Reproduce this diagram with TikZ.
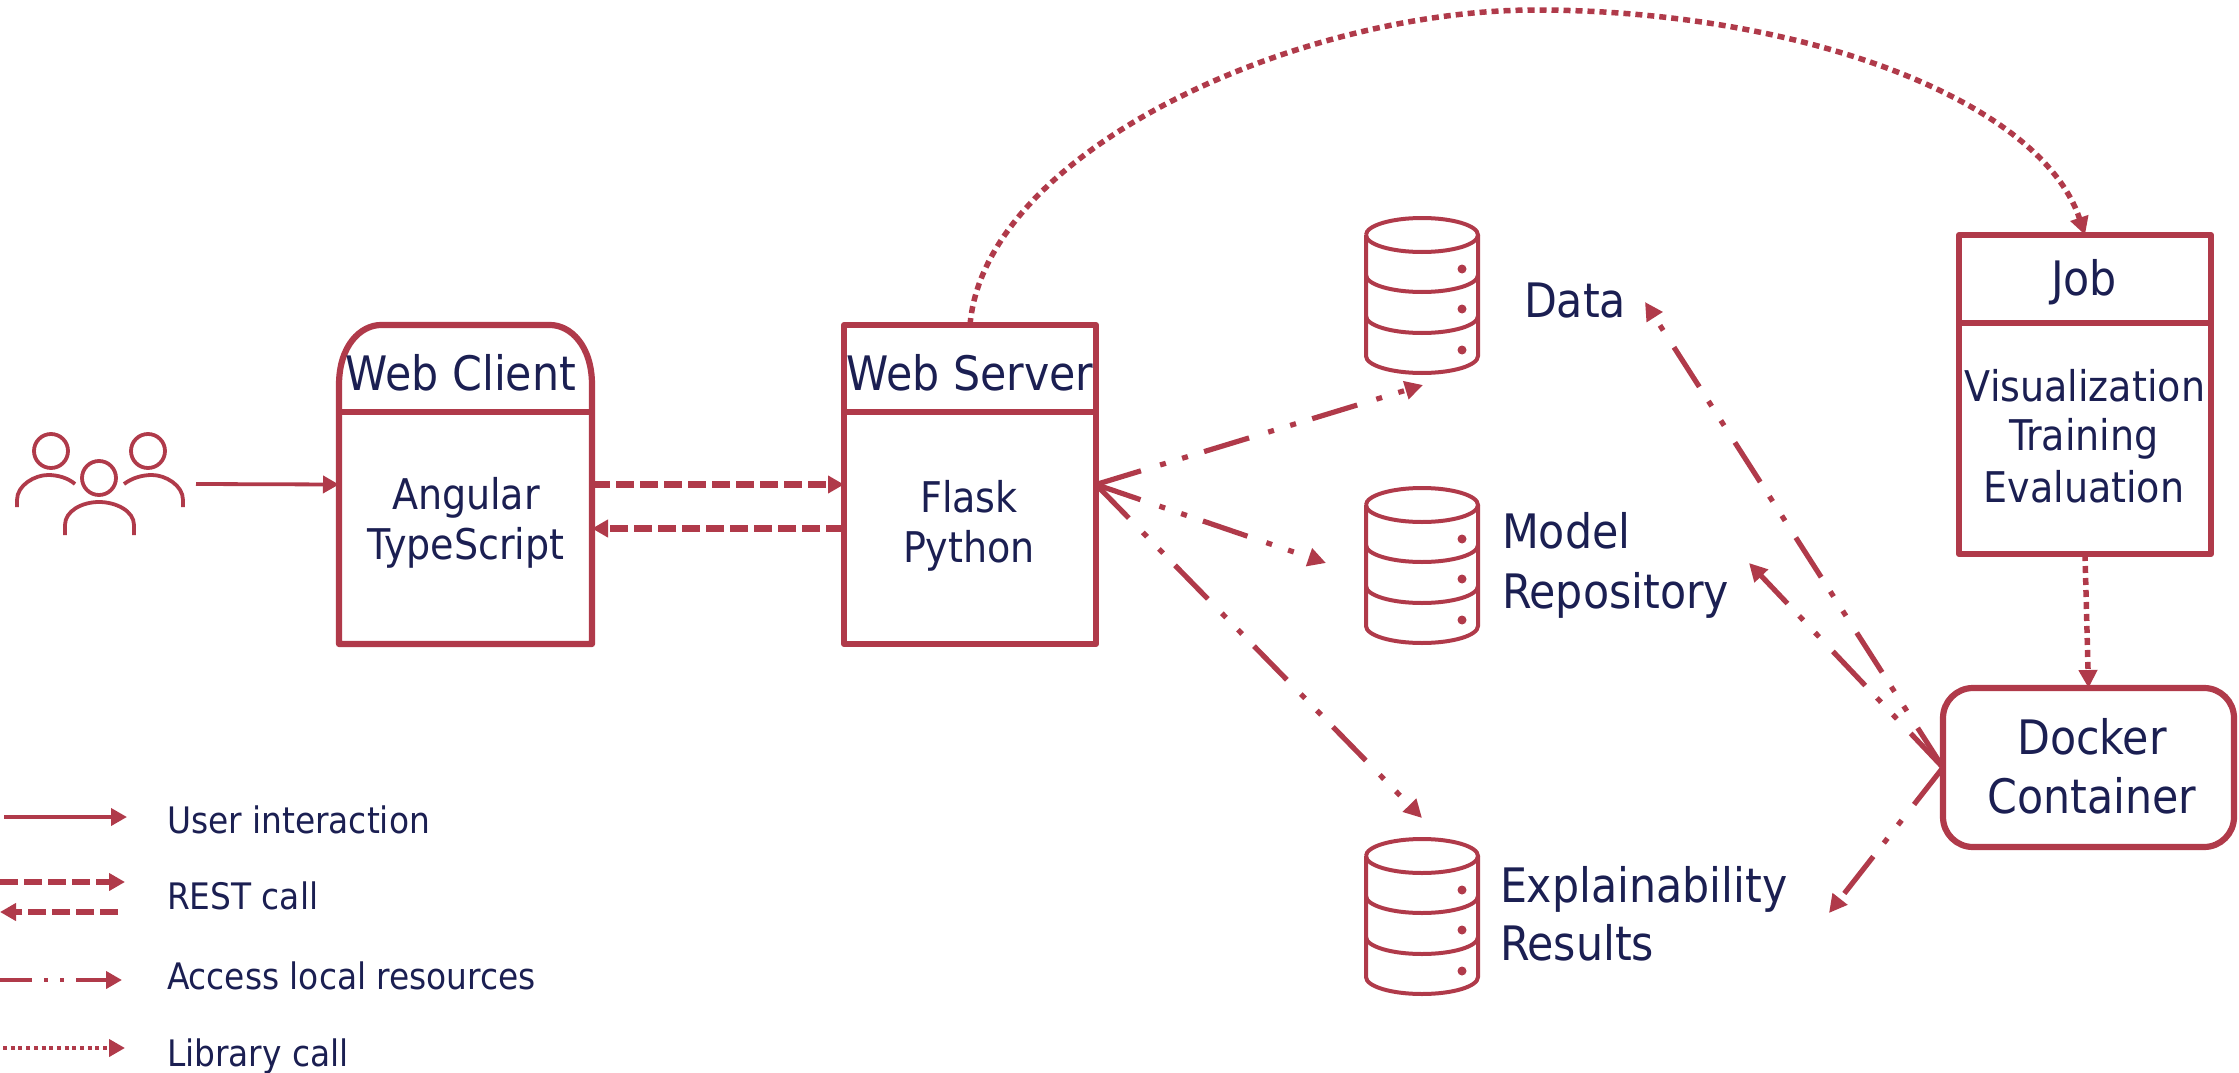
\documentclass[tikz,border=0pt]{standalone}
\usepackage{fontspec}
\setmainfont{DejaVu Sans Condensed}
\usetikzlibrary{arrows.meta,calc}
\definecolor{wine}{RGB}{176,58,74}
\definecolor{navy}{RGB}{27,31,82}
\tikzset{
  x=1pt,y=-1pt,
  box/.style={rectangle,draw=wine,line width=6.2pt,line join=round,minimum width=#1,inner sep=0pt,outer sep=0pt},
  plainbox/.style={rectangle,inner sep=0pt,outer sep=0pt,minimum width=#1},
  lbl/.style={text=navy,inner sep=0pt,outer sep=0pt,font=\fontsize{47.5}{58}\selectfont,anchor=base},
  lblb/.style={lbl,font=\fontsize{42.3}{50}\selectfont},
  lblw/.style={lbl,anchor=base west},
  leg/.style={text=navy,inner sep=0pt,outer sep=0pt,font=\fontsize{36.5}{42}\selectfont,anchor=base west},
  tipa/.style={-{Triangle[length=16pt,width=17pt]}},
  tipb/.style={-{Triangle[length=18pt,width=18pt]}},
  userline/.style={draw=wine,line width=3.8pt,tipa},
  restline/.style={draw=wine,line width=6.3pt,dash pattern=on 18pt off 6pt,tipa},
  accessline/.style={draw=wine,line width=5.2pt,dash pattern=on 47pt off 20pt on 6pt off 17pt on 6pt off 17pt,tipb},
  libline/.style={draw=wine,line width=5.5pt,dash pattern=on 7pt off 5pt,tipb},
  pics/dbicon/.style={code={
    \draw[wine,line width=4pt] (-56,17) arc[x radius=56,y radius=17,start angle=180,end angle=-180];
    \draw[wine,line width=4pt] (-56,17) -- (-56,138) arc[x radius=56,y radius=17,start angle=180,end angle=0] -- (56,17);
    \draw[wine,line width=4pt] (-56,57) arc[x radius=56,y radius=17,start angle=180,end angle=0];
    \draw[wine,line width=4pt] (-56,98) arc[x radius=56,y radius=17,start angle=180,end angle=0];
    \fill[wine] (40,51) circle[radius=4.5] (40,91) circle[radius=4.5] (40,132) circle[radius=4.5];
  }},
  personicon/.style={wine,line width=3.8pt}
}
\begin{document}
\begin{tikzpicture}
\useasboundingbox (0,0) rectangle (2239,1073);
% people
\draw[personicon] (51,451) circle[radius=17] (148,451) circle[radius=17] (99,478) circle[radius=17];
\draw[personicon] (17,507) -- (17,500) .. controls (17,485) and (35,475) .. (48,475) .. controls (58,475) and (68,478) .. (75,484);
\draw[personicon] (183,507) -- (183,500) .. controls (183,485) and (165,475) .. (152,475) .. controls (142,475) and (132,478) .. (124,484);
\draw[personicon] (65,535) -- (65,525) .. controls (65,511) and (82,502) .. (99,502) .. controls (116,502) and (134,511) .. (134,525) -- (134,535);
\coordinate (people) at (196,484);
% web client
\node[plainbox=253pt,minimum height=319pt] (client) at (465.5,484.5) {};
\draw[wine,line width=6.2pt,line join=round] (client.south west) -- ($(client.north west)+(0,60)$) .. controls ($(client.north west)+(0,20)$) and ($(client.north west)+(22,0)$) .. ($(client.north west)+(42,0)$) -- ($(client.north east)+(-42,0)$) .. controls ($(client.north east)+(-22,0)$) and ($(client.north east)+(0,20)$) .. ($(client.north east)+(0,60)$) -- (client.south east) -- cycle;
\draw[wine,line width=6.2pt] ($(client.north west)+(0,87)$) -- ($(client.north east)+(0,87)$);
\node[lbl] (clienthead) at (461,390) {Web Client};
\node[lblb] (clientb1) at (466,509) {Angular};
\node[lblb] (clientb2) at (466,559) {TypeScript};
% web server
\node[box=252pt,minimum height=319pt] (server) at (970,484.5) {};
\draw[wine,line width=6.2pt] ($(server.north west)+(0,87)$) -- ($(server.north east)+(0,87)$);
\node[lbl] (serverhead) at (970,390) {Web Server};
\node[lblb] (serverb1) at (969,512) {Flask};
\node[lblb] (serverb2) at (969,562) {Python};
% job
\node[box=252pt,minimum height=319pt] (job) at (2085,394.5) {};
\draw[wine,line width=6.2pt] ($(job.north west)+(0,88)$) -- ($(job.north east)+(0,88)$);
\node[lbl] (jobhead) at (2084,295) {Job};
\node[lblb] (jobb1) at (2085,401) {Visualization};
\node[lblb] (jobb2) at (2084,450) {Training};
\node[lblb] (jobb3) at (2084,502) {Evaluation};
% docker
\node[box=291pt,minimum height=159pt,rounded corners=30pt] (docker) at (2088.5,767.5) {};
\node[lbl] (dockerb1) at (2092,754) {Docker};
\node[lbl] (dockerb2) at (2092,813) {Container};
% databases
\pic at (1422,218) {dbicon};
\pic at (1422,488) {dbicon};
\pic at (1422,839) {dbicon};
\node[lblw] (data) at (1524,317) {Data};
\node[lblw] (model1) at (1502,548) {Model};
\node[lblw] (model2) at (1502,608) {Repository};
\node[lblw] (expl1) at (1500,902) {Explainability};
\node[lblw] (expl2) at (1500,960) {Results};
\coordinate (dataL) at (1423,385);
\coordinate (modelL) at (1326,563);
\coordinate (explL) at (1422,818);
\coordinate (dataR) at (1645,302);
\coordinate (modelR) at (1749,563);
\coordinate (explR) at (1829,913);
% connectors
\draw[userline] (people) -- (client.west);
\draw[restline] (client.east) -- (server.west);
\draw[restline] ([yshift=-44pt]server.west) -- ([yshift=-44pt]client.east);
\foreach \t in {dataL,modelL,explL} \draw[accessline] (server.east) -- (\t);
\foreach \t in {dataR,modelR,explR} \draw[accessline] (docker.west) -- (\t);
\draw[libline] (server.north) .. controls (985,150) and (1300,10) .. (1535,10) .. controls (1800,10) and (2040,100) .. (job.north);
\draw[libline] (job.south) -- (docker.north);
% legend
\coordinate (a1) at (4,817); \coordinate (a2) at (127,817);
\coordinate (b1) at (0,882); \coordinate (b2) at (125,882);
\coordinate (c1) at (118,912); \coordinate (c2) at (0,912);
\coordinate (d1) at (0,980); \coordinate (d2) at (122,980);
\coordinate (e1) at (3,1048); \coordinate (e2) at (125,1048);
\draw[userline] (a1) -- (a2);
\draw[restline] (b1) -- (b2);
\draw[restline] (c1) -- (c2);
\draw[accessline,line width=4pt,tipa,dash pattern=on 32pt off 12pt on 4pt off 12pt on 4pt off 12pt] (d1) -- (d2);
\draw[libline,line width=4.5pt,tipa,dash pattern=on 4pt off 3.7pt] (e1) -- (e2);
\node[leg] (l1) at (167,833) {User interaction};
\node[leg] (l2) at (167,909) {REST call};
\node[leg] (l3) at (167,989) {Access local resources};
\node[leg] (l4) at (167,1066) {Library call};
\end{tikzpicture}
\end{document}
